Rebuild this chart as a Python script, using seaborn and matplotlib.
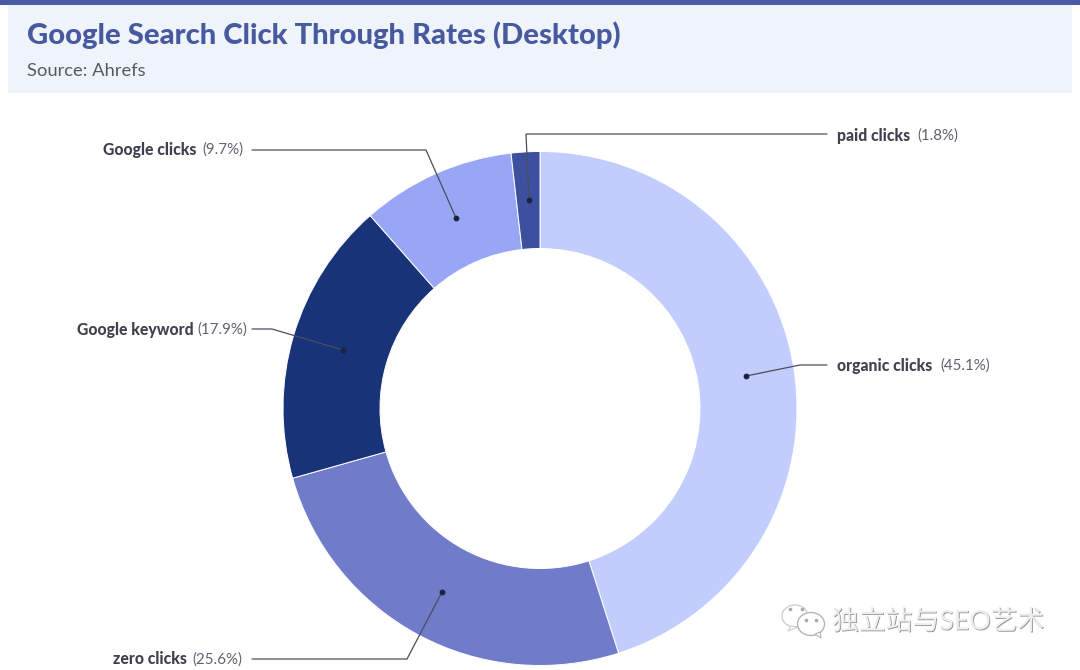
import matplotlib
matplotlib.use('Agg')
import matplotlib.pyplot as plt
from matplotlib.patches import Ellipse, Polygon, Rectangle
import matplotlib.patheffects as pe
import seaborn as sns

# Data
categories = ['organic clicks', 'zero clicks', 'Google keyword', 'Google clicks', 'paid clicks']
shares = [45.1, 25.6, 17.9, 9.7, 1.8]
colors = ['#c2cdfd', '#707cc9', '#183378', '#98a6f5', '#3d509f']
title = 'Google Search Click Through Rates (Desktop)'
source = 'Source: Ahrefs'
watermark = '独立站与SEO艺术'

sns.set_theme(style='white')
plt.rcParams['font.family'] = ['Lato', 'Noto Sans CJK SC', 'DejaVu Sans']

W, H = 1080, 670
fig = plt.figure(figsize=(W / 100, H / 100), dpi=100, facecolor='white')

# overlay in pixel coords, y going down
ov = fig.add_axes([0, 0, 1, 1], zorder=0)
ov.set_xlim(0, W); ov.set_ylim(H, 0); ov.axis('off')
ov.add_patch(Rectangle((8, 5), 1064, 88, color='#eff3fa', lw=0))
ov.add_patch(Rectangle((0, 0), W, 5, color='#4a5aa5', lw=0))
ov.text(27, 35, title, fontsize=21.05, fontweight='black', color='#47599f', va='center')
ov.text(27, 70.5, source, fontsize=13.2, color='#555a66', va='center')

# donut: centre (540, 408.5), radius 257 px, pie axes span +-1.25 radii
cx, cy, r = 540, 408.5, 257
span = r * 2.5
pie_ax = fig.add_axes([(cx - span / 2) / W, (H - cy - span / 2) / H, span / W, span / H], zorder=1)
pie_ax.pie(shares, colors=colors, startangle=90, counterclock=False, radius=1,
           wedgeprops=dict(width=97 / 257, edgecolor='white', linewidth=0.7))

# leader lines on top of the donut
top = fig.add_axes([0, 0, 1, 1], zorder=2)
top.set_xlim(0, W); top.set_ylim(H, 0); top.axis('off'); top.patch.set_alpha(0)
leaders = [
    ([827, 800, 746], [365, 365, 376]),
    ([252, 407, 442], [659, 659, 592]),
    ([252, 272, 343], [329, 329, 350]),
    ([252, 426, 456], [150, 150, 218]),
    ([827, 526, 529], [134, 134, 200]),
]
for xs, ys in leaders:
    top.plot(xs, ys, color='#4a4e5c', lw=0.9, solid_joinstyle='miter')
    top.plot(xs[-1], ys[-1], 'o', color='#1c2340', ms=3.2)

labels = [
    (837, 365.5, 'organic clicks', 940, '(45.1%)'),
    (113, 659.5, 'zero clicks', 192, '(25.6%)'),
    (77, 329.5, 'Google keyword', 197, '(17.9%)'),
    (103, 150, 'Google clicks', 202, '(9.7%)'),
    (837, 135.5, 'paid clicks', 917, '(1.8%)'),
]
for x0, y, name, x1, pct in labels:
    top.text(x0, y, name, fontsize=11.3, fontweight='black', color='#3f424e', va='center')
    top.text(x1, y, pct, fontsize=10.9, color='#5f636e', va='center')

# watermark
shadow = [pe.withSimplePatchShadow(offset=(0.6, -0.6), shadow_rgbFace='#777777', alpha=0.8)]
top.text(832, 622, watermark, fontsize=19.3, color='#eeeeee', va='center', path_effects=shadow)
top.add_patch(Ellipse((795, 616), 26, 22, fc='white', ec='#cfcfcf', lw=1))
top.add_patch(Polygon([[791, 626], [788, 631], [798, 627]], fc='white', ec='#cfcfcf', lw=0.8))
top.add_patch(Ellipse((811, 624), 27, 23, fc='white', ec='#b5b5b5', lw=1))
top.add_patch(Polygon([[815, 634], [821, 638], [820, 632]], fc='white', ec='#b5b5b5', lw=0.8))
for x, y in [(790, 609), (802, 609), (806, 620), (816, 620)]:
    top.plot(x, y, 'o', color='#a8a8a8', ms=1.6)

fig.savefig('out.png', dpi=100)
